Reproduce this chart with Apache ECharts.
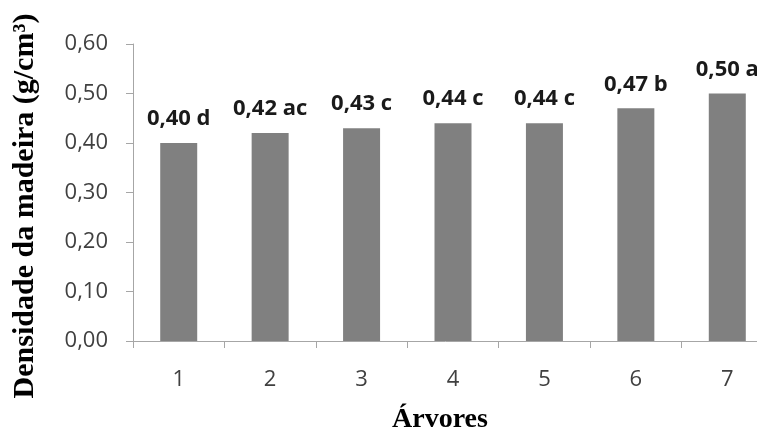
<!DOCTYPE html>
<html>
<head>
<meta charset="utf-8">
<style>
  html, body { margin: 0; padding: 0; background: #ffffff; }
  #chart { width: 757px; height: 431px; }
</style>
<script src="https://cdn.jsdelivr.net/npm/echarts@6/dist/echarts.min.js"></script>
</head>
<body>
<div id="chart"></div>
<script>
// Tree numbers along the x axis
const arvores = ['1', '2', '3', '4', '5', '6', '7'];
// Mean wood density per tree (g/cm³)
const densidade = [0.40, 0.42, 0.43, 0.44, 0.44, 0.47, 0.50];
// Mean-comparison letters shown after each value
const letras = ['d', 'ac', 'c', 'c', 'c', 'b', 'a'];

const fmt = v => v.toFixed(2).replace('.', ',');

const chart = echarts.init(document.getElementById('chart'), null, { renderer: 'canvas' });

chart.setOption({
  backgroundColor: '#ffffff',
  animation: false,
  grid: {
    left: 133, top: 44, width: 640, height: 297,
    containLabel: false,
    outerBoundsMode: 'none'
  },
  xAxis: {
    type: 'category',
    data: arvores,
    axisLine: { lineStyle: { color: '#a6a6a6', width: 1 } },
    axisTick: { show: true, length: 7, alignWithLabel: false, lineStyle: { color: '#a6a6a6' } },
    axisLabel: { margin: 28, color: '#404040', fontFamily: 'Open Sans', fontSize: 22 }
  },
  yAxis: {
    type: 'value',
    min: 0,
    max: 0.6,
    interval: 0.1,
    splitLine: { show: false },
    axisLine: { show: true, lineStyle: { color: '#a6a6a6', width: 1 } },
    axisTick: { show: true, length: 7, lineStyle: { color: '#a6a6a6' } },
    axisLabel: {
      margin: 25,
      color: '#404040',
      fontFamily: 'Open Sans',
      fontSize: 22,
      formatter: v => fmt(v)
    }
  },
  series: [{
    type: 'bar',
    data: densidade,
    barWidth: 37,
    itemStyle: { color: '#808080' },
    label: {
      show: true,
      position: 'top',
      distance: 13,
      color: '#1a1a1a',
      fontFamily: 'Open Sans',
      fontWeight: 'bold',
      fontSize: 22,
      formatter: p => fmt(p.value) + ' ' + letras[p.dataIndex]
    }
  }],
  graphic: [
    {
      type: 'text',
      x: 25,
      y: 206,
      rotation: Math.PI / 2,
      style: {
        text: 'Densidade da madeira (g/cm³)',
        font: 'bold 30px "Liberation Serif", "DejaVu Serif", serif',
        fill: '#000000',
        textAlign: 'center',
        textVerticalAlign: 'middle'
      }
    },
    {
      type: 'text',
      x: 440,
      y: 434,
      style: {
        text: 'Árvores',
        font: 'bold 28px "Liberation Serif", "DejaVu Serif", serif',
        fill: '#000000',
        textAlign: 'center',
        textVerticalAlign: 'bottom'
      }
    }
  ]
});
</script>
</body>
</html>
